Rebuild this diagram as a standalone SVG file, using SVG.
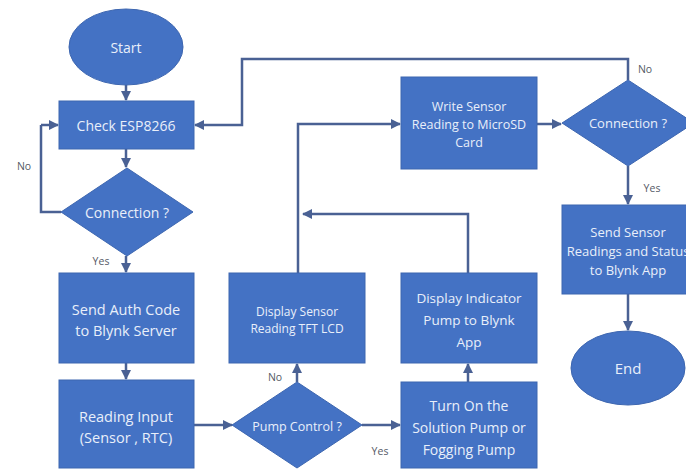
<svg xmlns="http://www.w3.org/2000/svg" width="686" height="471" viewBox="0 0 686 471">
  <style>
    .shape { fill: #4472c4; stroke: #3d66b0; stroke-width: 1; }
    .t { font-family: "Open Sans", "Noto Sans", sans-serif; fill: #e9effa; text-anchor: middle; dominant-baseline: central; }
    .lbl { font-family: "Open Sans", "Noto Sans", sans-serif; fill: #555a66; font-size: 10.5px; text-anchor: middle; dominant-baseline: central; }
    .line { fill: none; stroke: #4a6194; stroke-width: 2.5; marker-end: url(#arrow); }
    .plain { fill: none; stroke: #4a6194; stroke-width: 2.5; }
  </style>
  <defs>
    <marker id="arrow" markerWidth="4" markerHeight="4" refX="3.6" refY="2" orient="auto" markerUnits="strokeWidth">
      <path d="M0,0 L4,2 L0,4 Z" fill="#4a6194"/>
    </marker>
  </defs>
  <rect width="686" height="471" fill="#ffffff"/>

  <g id="connectors">
    <!-- main column -->
    <path class="line" d="M126,85 V100"/>
    <path class="line" d="M126,149 V167"/>
    <path class="plain" d="M61,212 H41 V125"/>
    <path class="line" d="M41,125 H58"/>
    <path class="line" d="M126,256 V272"/>
    <path class="line" d="M126,363 V379"/>
    <!-- reading input to pump decision -->
    <path class="line" d="M194,425 H232"/>
    <path class="line" d="M297,382 V364"/>
    <path class="line" d="M362,425 H400"/>
    <path class="line" d="M468,382 V364"/>
    <!-- loops back to the SD card writer -->
    <path class="line" d="M468,273 V214 H303"/>
    <path class="line" d="M298,273 V124 H400"/>
    <path class="line" d="M537,124 H561"/>
    <!-- connection decision, right side -->
    <path class="line" d="M628,80 V59 H242 V125 H195"/>
    <path class="line" d="M628,166 V204"/>
    <path class="line" d="M628,294 V330"/>
  </g>

  <g id="start">
    <ellipse class="shape" cx="126" cy="47" rx="57" ry="38"/>
    <text class="t" x="126" y="47" font-size="14">Start</text>
  </g>

  <g id="check-esp">
    <rect class="shape" x="59" y="101" width="135" height="48"/>
    <text class="t" x="126" y="125" font-size="14">Check ESP8266</text>
  </g>

  <g id="connection-left">
    <polygon class="shape" points="127,168 193,212 127,256 61,212"/>
    <text class="t" x="127" y="212" font-size="14">Connection ?</text>
  </g>

  <g id="send-auth">
    <rect class="shape" x="59" y="273" width="135" height="90"/>
    <text class="t" x="126" y="309" font-size="14.5">Send Auth Code</text>
    <text class="t" x="126" y="330" font-size="14.5">to Blynk Server</text>
  </g>

  <g id="reading-input">
    <rect class="shape" x="59" y="380" width="135" height="88"/>
    <text class="t" x="126" y="416" font-size="14.5">Reading Input</text>
    <text class="t" x="126" y="437" font-size="14.5">(Sensor , RTC)</text>
  </g>

  <g id="pump-control">
    <polygon class="shape" points="297,382 362,425 297,468 232,425"/>
    <text class="t" x="297" y="426" font-size="12.5">Pump Control ?</text>
  </g>

  <g id="display-sensor">
    <rect class="shape" x="229" y="273" width="136" height="90"/>
    <text class="t" x="297" y="311" font-size="12">Display Sensor</text>
    <text class="t" x="297" y="328" font-size="12">Reading TFT LCD</text>
  </g>

  <g id="write-sensor">
    <rect class="shape" x="401" y="77" width="136" height="92"/>
    <text class="t" x="469" y="106" font-size="12.5">Write Sensor</text>
    <text class="t" x="469" y="124" font-size="12.5">Reading to MicroSD</text>
    <text class="t" x="469" y="142" font-size="12.5">Card</text>
  </g>

  <g id="connection-right">
    <polygon class="shape" points="628,80 694,123 628,166 562,123"/>
    <text class="t" x="628" y="123" font-size="13">Connection ?</text>
  </g>

  <g id="send-readings">
    <rect class="shape" x="562" y="205" width="134" height="89"/>
    <text class="t" x="628" y="232" font-size="13">Send Sensor</text>
    <text class="t" x="628" y="251" font-size="13">Readings and Status</text>
    <text class="t" x="628" y="270" font-size="13">to Blynk App</text>
  </g>

  <g id="end">
    <ellipse class="shape" cx="628" cy="368" rx="57" ry="37"/>
    <text class="t" x="628" y="368" font-size="15">End</text>
  </g>

  <g id="display-indicator">
    <rect class="shape" x="401" y="273" width="136" height="90"/>
    <text class="t" x="469" y="298" font-size="13.5">Display Indicator</text>
    <text class="t" x="469" y="320" font-size="13.5">Pump to Blynk</text>
    <text class="t" x="469" y="342" font-size="13.5">App</text>
  </g>

  <g id="turn-on-pump">
    <rect class="shape" x="401" y="382" width="136" height="86"/>
    <text class="t" x="469" y="405" font-size="14">Turn On the</text>
    <text class="t" x="469" y="427" font-size="14">Solution Pump or</text>
    <text class="t" x="469" y="449" font-size="14">Fogging Pump</text>
  </g>

  <g id="labels">
    <text class="lbl" x="24" y="166">No</text>
    <text class="lbl" x="101" y="261">Yes</text>
    <text class="lbl" x="275" y="377">No</text>
    <text class="lbl" x="380" y="451">Yes</text>
    <text class="lbl" x="645" y="69">No</text>
    <text class="lbl" x="652" y="188">Yes</text>
  </g>
</svg>
